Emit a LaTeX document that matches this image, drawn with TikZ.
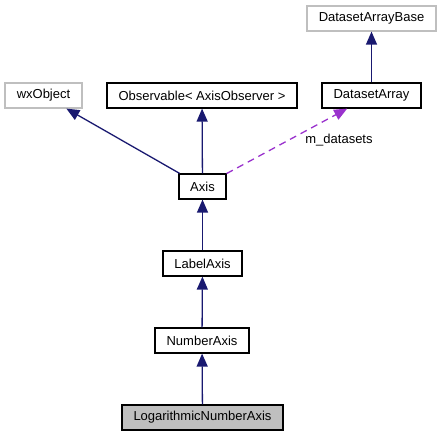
\documentclass[tikz,border=0pt]{standalone}
\usepackage{fontspec}
\setmainfont{Liberation Sans}
\usetikzlibrary{arrows.meta}
\definecolor{edgeblue}{HTML}{191970}
\definecolor{edgepurple}{HTML}{9A32CD}
\begin{document}
\begin{tikzpicture}[x=1pt,y=-1pt,
    box/.style={draw=black,line width=1.2pt,minimum height=25pt,inner sep=0pt,font=\fontsize{13}{15}\selectfont},
    greybox/.style={box,draw=black!25},
    inherit/.style={draw=edgeblue,line width=1.3pt,-{Triangle[length=13pt,width=11pt]}},
    uses/.style={draw=edgepurple,line width=1.3pt,dash pattern=on 7pt off 5pt,-{Triangle[length=13pt,width=11pt]}}]
				\useasboundingbox (0,0) rectangle (441,437);
				\node[greybox,minimum width=129pt] (base) at (371.5,18.5){DatasetArrayBase};
				\node[greybox,minimum width=77pt] (wxobj) at (43.5,95.5){wxObject};
				\node[box,minimum width=190pt] (observable) at (202,95.5){Observable< AxisObserver >};
				\node[box,minimum width=99pt] (dsarray) at (371.5,95.5){DatasetArray};
				\node[box,minimum width=47pt] (axis) at (202.5,186.5){Axis};
				\node[box,minimum width=79pt] (labelaxis) at (202.5,263.5){LabelAxis};
				\node[box,minimum width=94pt] (numberaxis) at (202,340.5){NumberAxis};
				\node[box,minimum width=161pt,fill=black!25] (logaxis) at (202.5,417.5){LogarithmicNumberAxis};
				\draw[inherit] (dsarray) -- (base);
				\draw[inherit] (axis) -- (wxobj);
				\draw[inherit] (axis) -- (observable);
				\draw[uses] (axis) -- (dsarray);
				\node[font=\fontsize{13}{15}\selectfont] (mdatasets) at (339,140){m\_datasets};
				\draw[inherit] (labelaxis) -- (axis);
				\draw[inherit] (numberaxis) -- (labelaxis);
				\draw[inherit] (logaxis) -- (numberaxis);
			\end{tikzpicture}
\end{document}
